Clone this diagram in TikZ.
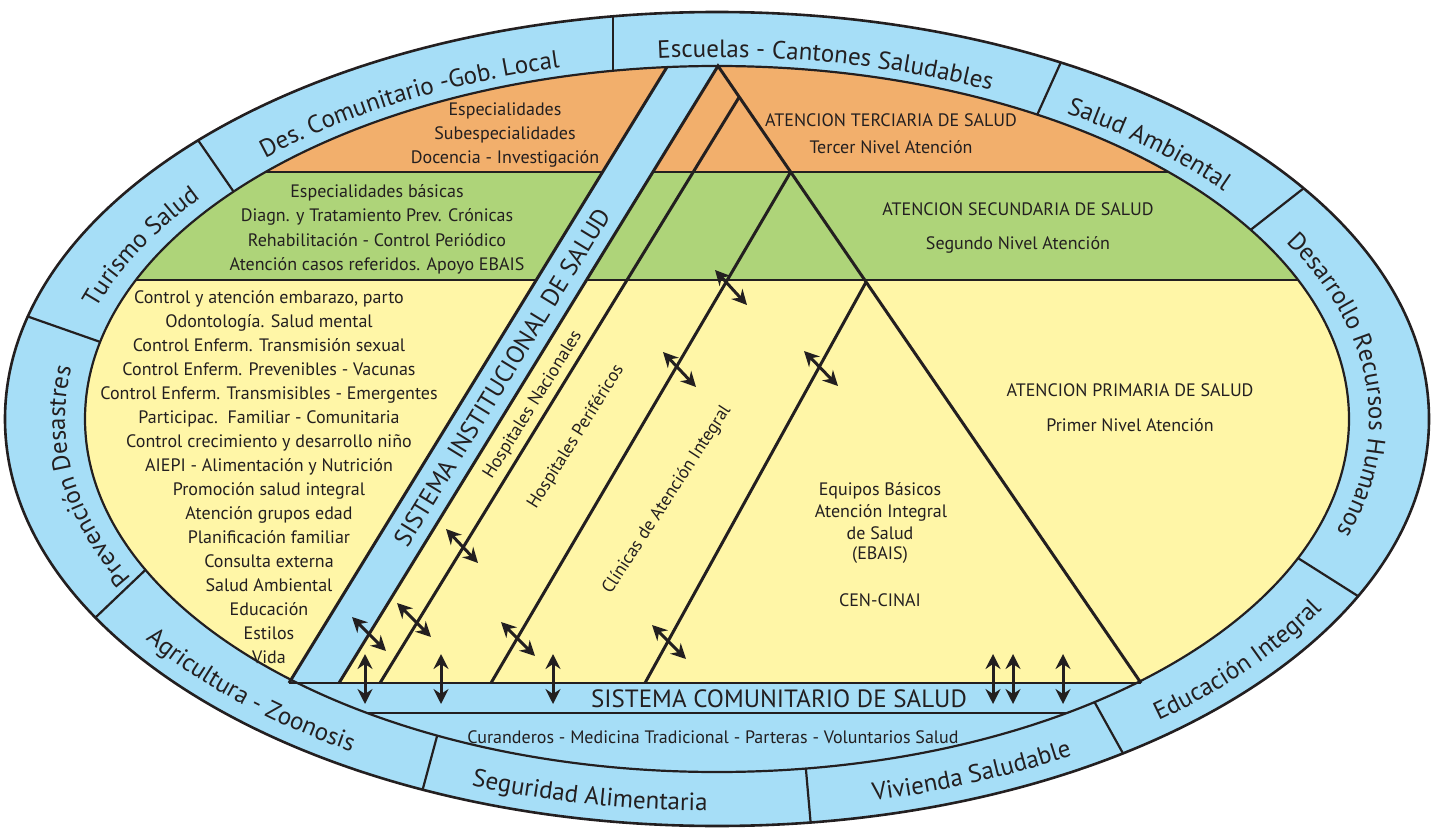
\documentclass[tikz,border=0pt]{standalone}
\usepackage{fontspec}
\setmainfont{PT Sans}
\newfontfamily\condf{PT Sans}
\usetikzlibrary{arrows.meta,calc,decorations.text}
\definecolor{ringblue}{RGB}{166,222,247}
\definecolor{tercol}{RGB}{242,175,108}
\definecolor{seccol}{RGB}{174,212,121}
\definecolor{pricol}{RGB}{255,246,167}
\definecolor{ink}{RGB}{35,31,32}
\newcommand\ringf{\fontsize{25}{28}\selectfont}
\tikzset{
 thinedge/.style={draw=ink, line width=2.2pt},
 heavy/.style={draw=ink, line width=3pt, line join=miter},
 lbl/.style={font=\condf\fontsize{18}{20}\selectfont, text=ink, inner sep=0pt, anchor=base},
 big/.style={font=\condf\fontsize{25}{28}\selectfont, text=ink, inner sep=0pt},
 dbl/.style={draw=ink, line width=3pt, {Stealth[length=15pt,width=15pt,inset=5pt]}-{Stealth[length=15pt,width=15pt,inset=5pt]}},
 ringtext/.style={decorate, decoration={text along path, text align=center, text color=ink, text={|\ringf|#1}}},
}
\newcommand\topring[3]{\path[ringtext={#3}] plot[domain=#1:#2, samples=80, variable=\q] ({717+652*cos(\q)},{419-362*sin(\q)});}
\newcommand\botring[3]{\path[ringtext={#3}] plot[domain=#1:#2, samples=80, variable=\q] ({717+692*cos(\q)},{419-392*sin(\q)});}
\begin{document}
\begin{tikzpicture}[x=1pt,y=-1pt]
\useasboundingbox (0,0) rectangle (1432,829);
% outer ring
\fill[ringblue] (717,419) ellipse [x radius=712pt, y radius=407pt];
\begin{scope}
\clip (717,419) ellipse [x radius=712pt, y radius=407pt];
\foreach \xa/\ya/\xb/\yb in {613/15/613/67, 200/143/229/185, 32/318/89/338, 96/617/138/577, 422/792/436/740, 811/827/806/770, 1125/757/1095/703, 1361/598/1301/560, 1304/188/1253/228, 1061/62/1038/113}
  \draw[thinedge] ($(\xa,\ya)!-1!(\xb,\yb)$) -- ($(\xa,\ya)!2!(\xb,\yb)$);
\end{scope}
% inner area
\begin{scope}
\clip (717,419) ellipse [x radius=632pt, y radius=353pt];
\fill[tercol] (0,0) rectangle (1432,172);
\fill[seccol] (0,172) rectangle (1432,280);
\fill[pricol] (0,280) rectangle (1432,683);
\fill[ringblue] (0,683) rectangle (1432,829);
\draw[thinedge] (0,172) -- (1432,172);
\draw[thinedge] (0,280) -- (1432,280);
\draw[thinedge] (0,713) -- (1432,713);
\fill[ringblue] (289,683) -- (684,40) -- (734,40) -- (339,683) -- cycle;
\end{scope}
\draw[thinedge] (717,419) ellipse [x radius=632pt, y radius=353pt];
\draw[thinedge, line width=2.6pt] (717,419) ellipse [x radius=712pt, y radius=407pt];
% structure
\coordinate (apex) at (718,66);
\coordinate (rb) at (1141,683);
\coordinate (lb) at (339,683);
\coordinate (bl) at (289,683);
\coordinate (bt) at (667,67);
\coordinate (p1) at ($(apex)!0.0502!(rb)$);
\coordinate (p2) at ($(apex)!0.1718!(rb)$);
\coordinate (p3) at ($(apex)!0.3501!(rb)$);
\coordinate (q1) at (380,683);
\coordinate (q2) at (491,683);
\coordinate (q3) at (645,683);
\draw[thinedge, line width=2.6pt] (bl) -- (rb);
\draw[heavy] (bt) -- (bl);
\draw[heavy] (lb) -- (apex) -- (rb);
\draw[heavy] (p1) -- (q1);
\draw[heavy] (p2) -- (q2);
\draw[heavy] (p3) -- (q3);
% arrows
\foreach \i/\xa/\ya/\xb/\yb in {1/715/270/747/305, 2/663/352/696/387, 3/804/351/838/386, 4/446/529/478/563, 5/352/617/386/651, 6/397/603/431/637, 7/501/622/535/656, 8/652/625/686/659, 9/365/654/365/704, 10/441/654/441/704, 11/553/654/553/704, 12/993/654/993/704, 13/1013/654/1013/704, 14/1063/654/1063/704}
{
  \coordinate (as\i) at (\xa,\ya);
  \coordinate (ae\i) at (\xb,\yb);
  \draw[dbl] (as\i) -- (ae\i);
}
% ring texts
\topring{100}{60}{Escuelas - Cantones Saludables}
\topring{140}{99}{Des. Comunitario -Gob. Local}
\topring{168}{138}{Turismo Salud}
\topring{211}{166}{Prevención Desastres}
\botring{208}{243}{Agricultura - Zoonosis}
\botring{242}{276}{Seguridad Alimentaria}
\botring{275}{310}{Vivienda Saludable}
\botring{305}{337}{Educación Integral}
\topring{38}{-28}{Desarrollo Recursos Humanos}
\topring{64}{31}{Salud Ambiental}
% texts in levels
\foreach [count=\i] \s in {{Especialidades},{Subespecialidades},{Docencia - Investigación}}
  \node[lbl] (ter\i) at (505,{92+24*\i}) {\s};
\foreach [count=\i] \s in {{Especialidades básicas},{Diagn. y Tratamiento Prev. Crónicas},{Rehabilitación - Control Periódico},{Atención casos referidos. Apoyo EBAIS}}
  \node[lbl] (sec\i) at (377,{174+24*\i}) {\s};
\foreach [count=\i] \s in {{Control y atención embarazo, parto},{Odontología. Salud mental},{Control Enferm. Transmisión sexual},{Control Enferm. Prevenibles - Vacunas},{Control Enferm. Transmisibles - Emergentes},{Participac.\ \ Familiar - Comunitaria},{Control crecimiento y desarrollo niño},{AIEPI - Alimentación y Nutrición},{Promoción salud integral},{Atención grupos edad},{Planificación familiar},{Consulta externa},{Salud Ambiental},{Educación},{Estilos},{Vida}}
  \node[lbl] (pri\i) at (269,{279+24*\i}) {\s};
\node[lbl] (t3a) at (891,126.7) {ATENCION TERCIARIA DE SALUD};
\node[lbl] (t3b) at (891,153.3) {Tercer Nivel Atención};
\node[lbl] (t2a) at (1018,216) {ATENCION SECUNDARIA DE SALUD};
\node[lbl] (t2b) at (1018,249.5) {Segundo Nivel Atención};
\node[lbl] (t1a) at (1130,396.7) {ATENCION PRIMARIA DE SALUD};
\node[lbl] (t1b) at (1130,431.7) {Primer Nivel Atención};
\node[lbl] (eb1) at (880,495) {Equipos Básicos};
\node[lbl] (eb2) at (881,517.3) {Atención Integral};
\node[lbl] (eb3) at (880,539.3) {de Salud};
\node[lbl] (eb4) at (880,559.3) {(EBAIS)};
\node[lbl] (cen) at (880,606.7) {CEN-CINAI};
\node[big, rotate=58.5] (sis) at (502,377) {SISTEMA INSTITUCIONAL DE SALUD};
\node[lbl, anchor=center, rotate=58] (hn) at (533,405) {Hospitales Nacionales};
\node[lbl, anchor=center, rotate=58] (hp) at (576,437) {Hospitales Periféricos};
\node[lbl, anchor=center, rotate=57] (cl) at (667,500) {Clínicas de Atención Integral};
\node[big, anchor=base] (com) at (779,707) {SISTEMA COMUNITARIO DE SALUD};
\node[lbl] (cur) at (713,743) {Curanderos - Medicina Tradicional - Parteras - Voluntarios Salud};
\end{tikzpicture}
\end{document}
